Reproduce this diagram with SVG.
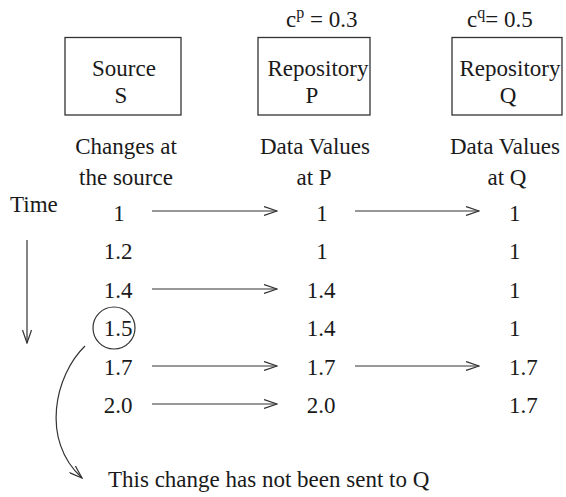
<svg xmlns="http://www.w3.org/2000/svg" width="566" height="497" viewBox="0 0 566 497">
<defs>
<style>
text{font-size:23px;fill:#1a1a1a}
.m{text-anchor:middle}
.box{fill:none;stroke:#333;stroke-width:1.3}
.ln{fill:none;stroke:#333;stroke-width:1.2}
</style>
<marker id="ah" viewBox="0 0 14 10" refX="13" refY="5" markerWidth="14" markerHeight="10" markerUnits="userSpaceOnUse" orient="auto">
<path d="M0,0.5 L13,5 L0,9.5" fill="none" stroke="#333" stroke-width="1.2"/>
</marker>
</defs>
<rect width="566" height="497" fill="#fff"/>
<g font-family="Liberation Serif, Tinos, DejaVu Serif, serif">
<g id="source">
<rect class="box" x="65" y="37.5" width="116" height="77.5"/>
<text class="m" x="124" y="76">Source</text>
<text class="m" x="121" y="103">S</text>
</g>
<g id="repoP">
<text x="286" y="27">c<tspan dy="-9" font-size="16">p</tspan><tspan dy="9"> = 0.3</tspan></text>
<rect class="box" x="258" y="37.5" width="112" height="77.5"/>
<text class="m" x="318" y="76">Repository</text>
<text class="m" x="312" y="103">P</text>
</g>
<g id="repoQ">
<text x="467" y="27">c<tspan dy="-9" font-size="16">q</tspan><tspan dy="9">= 0.5</tspan></text>
<rect class="box" x="452" y="37.5" width="110" height="77.5"/>
<text class="m" x="510" y="76">Repository</text>
<text class="m" x="508" y="103">Q</text>
</g>
<g id="headers">
<text class="m" x="126" y="154">Changes at</text>
<text class="m" x="126" y="185">the source</text>
<text class="m" x="315" y="154">Data Values</text>
<text class="m" x="314" y="185">at P</text>
<text class="m" x="505" y="154">Data Values</text>
<text class="m" x="507" y="185">at Q</text>
<text x="10" y="212">Time</text>
</g>
<g id="colS">
<text class="m" x="119" y="221">1</text>
<text class="m" x="118" y="259">1.2</text>
<text class="m" x="118" y="298">1.4</text>
<text class="m" x="118" y="336">1.5</text>
<text class="m" x="118" y="375">1.7</text>
<text class="m" x="118" y="413">2.0</text>
</g>
<g id="colP">
<text class="m" x="322" y="221">1</text>
<text class="m" x="322" y="259">1</text>
<text class="m" x="321" y="298">1.4</text>
<text class="m" x="321" y="336">1.4</text>
<text class="m" x="321" y="375">1.7</text>
<text class="m" x="321" y="413">2.0</text>
</g>
<g id="colQ">
<text x="509" y="221">1</text>
<text x="509" y="259">1</text>
<text x="509" y="298">1</text>
<text x="509" y="336">1</text>
<text x="509" y="375">1.7</text>
<text x="509" y="413">1.7</text>
</g>
<g id="note">
<circle class="ln" cx="114" cy="328" r="21"/>
<text x="108" y="487" font-size="23.5">This change has not been sent to Q</text>
</g>
</g>
<g id="connectors">
<line class="ln" x1="27" y1="240" x2="27" y2="343" marker-end="url(#ah)"/>
<line class="ln" x1="152" y1="211" x2="277" y2="211" marker-end="url(#ah)"/>
<line class="ln" x1="355" y1="211" x2="479" y2="211" marker-end="url(#ah)"/>
<line class="ln" x1="152" y1="289" x2="277" y2="289" marker-end="url(#ah)"/>
<line class="ln" x1="152" y1="366" x2="277" y2="366" marker-end="url(#ah)"/>
<line class="ln" x1="355" y1="366" x2="479" y2="366" marker-end="url(#ah)"/>
<line class="ln" x1="152" y1="404" x2="277" y2="404" marker-end="url(#ah)"/>
<path class="ln" d="M85,346 C55,375 40,440 82,478" marker-end="url(#ah)"/>
</g>
</svg>
